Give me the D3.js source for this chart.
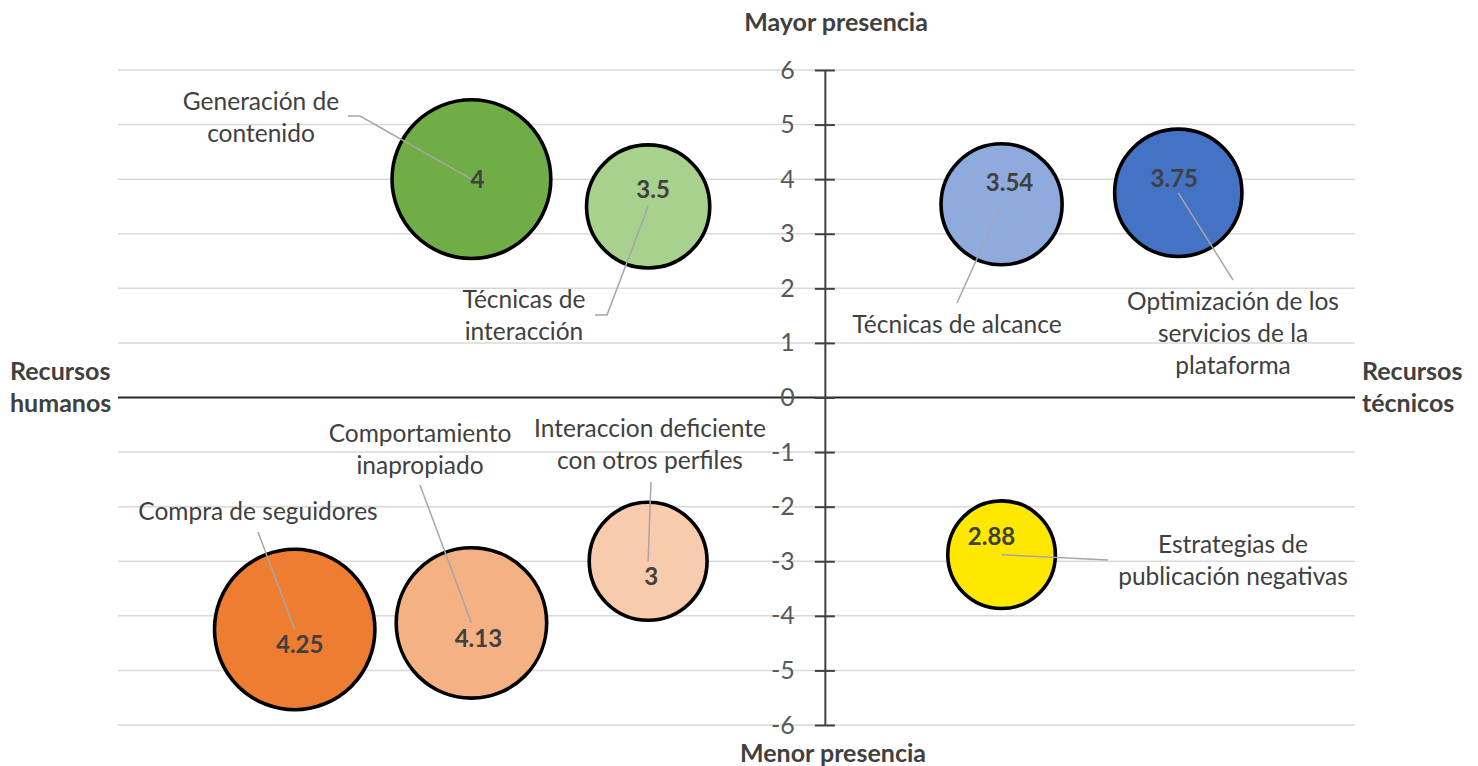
<!DOCTYPE html>
<html>
<head>
<meta charset="utf-8">
<script src="https://cdn.jsdelivr.net/npm/d3@7"></script>
<style>
 body { margin: 0; background: #fff; }
 text { font-family: Lato, "Open Sans", sans-serif; }
</style>
</head>
<body>
<script>
const width = 1478;
const height = 766;

// data
const names = [
 ["Generación de", "contenido"],
 ["Técnicas de", "interacción"],
 ["Técnicas de alcance"],
 ["Optimización de los", "servicios de la", "plataforma"],
 ["Compra de seguidores"],
 ["Comportamiento", "inapropiado"],
 ["Interaccion deficiente", "con otros perfiles"],
 ["Estrategias de", "publicación negativas"]
];
const xValues = [-2, -1, 1, 2, -3, -2, -1, 1];
const yValues = [4, 3.5, 3.54, 3.75, -4.25, -4.13, -3, -2.88];
const valueLabels = ["4", "3.5", "3.54", "3.75", "4.25", "4.13", "3", "2.88"];
const sizes = [98, 59, 57, 63, 100, 88, 54, 45];
const colors = ["#70AD47", "#A9D18E", "#8FAADC", "#4472C4", "#ED7D31", "#F4B183", "#F8CBAD", "#FFE800"];
const yTicks = [6, 5, 4, 3, 2, 1, 0, -1, -2, -3, -4, -5, -6];

// label layout (px)
const valueOffsets = [[6, 9], [5, -8], [8, -13], [-4, -6], [5, 24], [7, 24], [3, 24], [-10, -10]];
const namePos = [[261, 110], [524, 308], [957, 333], [1233, 310], [258, 520], [420, 442], [650, 437], [1233, 553]];
const leaderStart = [
 [[348, 116], [360, 116]],
 [[595, 315], [607, 315]],
 [[957, 303]],
 [[1233, 280]],
 [[258, 532]],
 [[420, 485]],
 [[651, 482]],
 [[1108, 560]]
];

var svg = d3.select("body")
 .append("svg")
 .attr("width", width)
 .attr("height", height);

const x = d3.scaleLinear().domain([-4, 3]).range([118, 1355]);
const y = d3.scaleLinear().domain([-6, 6]).range([725, 70]);
const r = d3.scaleSqrt().domain([0, d3.max(sizes)]).range([0, 80.2]);

// gridlines
svg.selectAll(".grid")
 .data(yTicks.filter(d => d != 0))
 .enter()
 .append("line")
 .attr("x1", x(-4))
 .attr("x2", x(3))
 .attr("y1", d => y(d))
 .attr("y2", d => y(d))
 .attr("stroke", "#D9D9D9")
 .attr("stroke-width", 1.5);

// horizontal axis at zero
svg.append("line")
 .attr("x1", x(-4))
 .attr("x2", x(3))
 .attr("y1", y(0))
 .attr("y2", y(0))
 .attr("stroke", "#262626")
 .attr("stroke-width", 2);

// vertical axis
const yAxis = d3.axisLeft(y)
 .tickValues(yTicks)
 .tickSize(0)
 .tickPadding(30)
 .tickFormat(d => String(d));

var ag = svg.append("g")
 .attr("transform", "translate(" + x(0) + ",0)")
 .call(yAxis);
ag.select(".domain").attr("stroke", "#404040").attr("stroke-width", 2);
ag.selectAll(".tick line")
 .attr("x1", -10)
 .attr("x2", 10)
 .attr("stroke", "#404040")
 .attr("stroke-width", 2);
ag.selectAll(".tick text")
 .attr("fill", "#595959")
 .style("font-size", "25px")
 .style("font-family", "Lato, sans-serif");

// bubbles
var idx = d3.range(names.length);
svg.selectAll(".bubble")
 .data(idx)
 .enter()
 .append("circle")
 .attr("cx", i => x(xValues[i]))
 .attr("cy", i => y(yValues[i]))
 .attr("r", i => r(sizes[i]))
 .attr("fill", i => colors[i])
 .attr("stroke", "#000")
 .attr("stroke-width", 3.6);

// leader lines
svg.selectAll(".leader")
 .data(idx)
 .enter()
 .append("polyline")
 .attr("points", i => leaderStart[i].concat([[x(xValues[i]), y(yValues[i])]]).map(p => p.join(",")).join(" "))
 .attr("fill", "none")
 .attr("stroke", "#A6A6A6")
 .attr("stroke-width", 1.5);

// value labels
svg.selectAll(".val")
 .data(idx)
 .enter()
 .append("text")
 .attr("x", i => x(xValues[i]) + valueOffsets[i][0])
 .attr("y", i => y(yValues[i]) + valueOffsets[i][1])
 .attr("text-anchor", "middle")
 .attr("fill", "#404040")
 .style("font-size", "24px")
 .style("font-weight", "bold")
 .text(i => valueLabels[i]);

// name labels
idx.forEach(function(i) {
 var t = svg.append("text")
  .attr("x", namePos[i][0])
  .attr("y", namePos[i][1])
  .attr("text-anchor", "middle")
  .attr("fill", "#404040")
  .style("font-size", "24.5px");
 names[i].forEach(function(line, j) {
  t.append("tspan")
   .attr("x", namePos[i][0])
   .attr("dy", j == 0 ? 0 : 32)
   .text(line);
 });
});

// axis titles
function title(lines, tx, ty, anchor) {
 var t = svg.append("text")
  .attr("x", tx)
  .attr("y", ty)
  .attr("text-anchor", anchor)
  .attr("fill", "#404040")
  .style("font-size", "25px")
  .style("font-weight", "bold");
 lines.forEach(function(line, j) {
  t.append("tspan").attr("x", tx).attr("dy", j == 0 ? 0 : 32).text(line);
 });
}
title(["Mayor presencia"], 836, 31, "middle");
title(["Menor presencia"], 833, 762, "middle");
title(["Recursos", "humanos"], 10, 380, "start");
title(["Recursos", "técnicos"], 1362, 380, "start");
</script>
</body>
</html>
